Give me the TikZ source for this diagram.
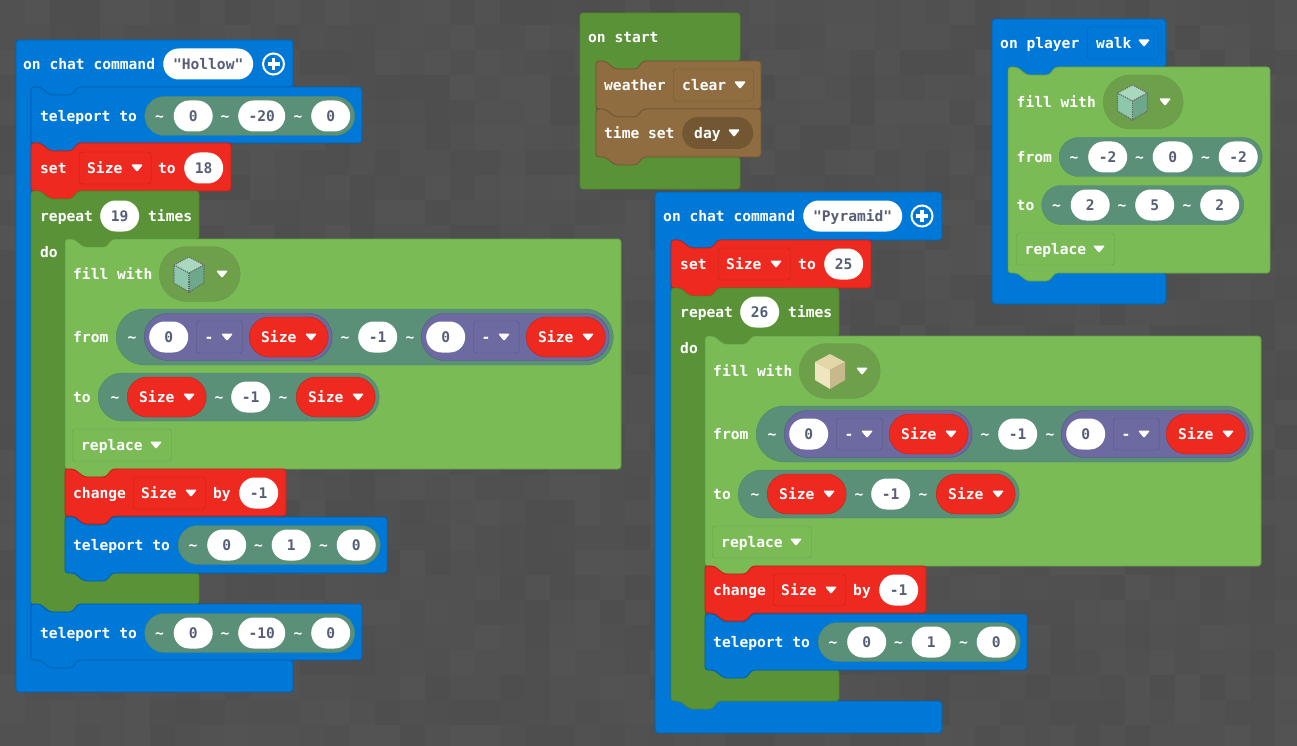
\documentclass[tikz,border=0pt]{standalone}
\usepackage{fontspec}
\setmonofont{DejaVu Sans Mono}
\usetikzlibrary{shapes.misc}
\definecolor{bluefill}{HTML}{0078D7}
\definecolor{blueline}{HTML}{0060AC}
\definecolor{hatgreen}{HTML}{5A9337}
\definecolor{hatline}{HTML}{4F8530}
\definecolor{lightgreen}{HTML}{7BBB56}
\definecolor{lightline}{HTML}{649F45}
\definecolor{ddgreen}{HTML}{6E9F4B}
\definecolor{redfill}{HTML}{EE2A20}
\definecolor{redline}{HTML}{BE2219}
\definecolor{brownfill}{HTML}{8F6D40}
\definecolor{brownline}{HTML}{725733}
\definecolor{browndark}{HTML}{735733}
\definecolor{tealfill}{HTML}{5A8F78}
\definecolor{tealline}{HTML}{4D8A68}
\definecolor{purplefill}{HTML}{6C6AA0}
\definecolor{purpleline}{HTML}{565580}
\definecolor{valtext}{HTML}{575E75}
\definecolor{cubetop}{HTML}{A9D8BE}
\definecolor{cubeleft}{HTML}{8EC7AB}
\definecolor{cuberight}{HTML}{6EA88C}
\definecolor{sandtop}{HTML}{E3D7A8}
\definecolor{sandleft}{HTML}{EFE6C0}
\definecolor{sandright}{HTML}{C8B98C}
\tikzset{
lbl/.style={anchor=west,inner sep=0,text=white},
tld/.style={anchor=center,inner sep=0,text=white},
valpill/.style={rounded rectangle,fill=white,text=valtext,minimum height=31pt,minimum width=39pt,inner sep=0,anchor=west},
tealgroup/.style={rounded rectangle,fill=tealfill,draw=tealline,minimum height=39pt,inner sep=0,anchor=west},
purplegroup/.style={rounded rectangle,fill=purplefill,draw=purpleline,minimum width=188pt,minimum height=47pt,inner sep=0,anchor=west},
sizepill/.style={rounded rectangle,fill=redfill,draw=redline,minimum width=79pt,minimum height=40pt,inner sep=0,anchor=west},
ddbox/.style={rectangle,rounded corners=3pt,minimum height=32pt,inner sep=0,anchor=west},
ddpill/.style={rounded rectangle,inner sep=0,anchor=west},
blueblock/.style={fill=bluefill,draw=blueline,rounded corners=3pt,line width=.8pt},
redblock/.style={fill=redfill,draw=redline,rounded corners=3pt,line width=.8pt},
hatblockcol/.style={fill=hatgreen,draw=hatline,rounded corners=3pt,line width=.8pt},
fillblock/.style={fill=lightgreen,draw=lightline,rounded corners=3pt,line width=.8pt},
brownblock/.style={fill=brownfill,draw=brownline,rounded corners=3pt,line width=.8pt},
dotedge/.style={black!60,densely dotted,line width=1.1pt}}

% style, x1, y1, x2, y2
\newcommand\stackblock[5]{
\draw[#1] (#2,#3) -- ({#2+9},#3) -- ({#2+19},{#3+8}) -- ({#2+41},{#3+8}) -- ({#2+47},#3) -- (#4,#3) -- (#4,#5)
 -- ({#2+47},#5) -- ({#2+41},{#5+8}) -- ({#2+19},{#5+8}) -- ({#2+9},#5) -- (#2,#5) -- cycle;
}
% style, x1, y1, x2, arm bottom, inner x, inner bottom, y2
\newcommand\hatblock[8]{
\draw[#1] (#2,#3) -- (#4,#3) -- (#4,#5) -- ({#6+47},#5) -- ({#6+41},{#5+8}) -- ({#6+19},{#5+8}) -- ({#6+9},#5) -- (#6,#5)
 -- (#6,#7) -- (#4,#7) -- (#4,#8) -- (#2,#8) -- cycle;
}
\newcommand\loopblock[8]{
\draw[#1] (#2,#3) -- ({#2+9},#3) -- ({#2+19},{#3+8}) -- ({#2+41},{#3+8}) -- ({#2+47},#3) -- (#4,#3) -- (#4,#5)
 -- ({#6+47},#5) -- ({#6+41},{#5+8}) -- ({#6+19},{#5+8}) -- ({#6+9},#5) -- (#6,#5) -- (#6,#7) -- (#4,#7) -- (#4,#8)
 -- ({#2+47},#8) -- ({#2+41},{#8+8}) -- ({#2+19},{#8+8}) -- ({#2+9},#8) -- (#2,#8) -- cycle;
}
\newcommand\tri[2]{
\fill[white,rounded corners=1.2pt] ({#1-6},{#2-3.5}) -- ({#1+6},{#2-3.5}) -- (#1,{#2+4}) -- cycle;
}
% name, x, y, a, b, c, width of b
\newcommand\coordrow[7]{
\node[tealgroup,minimum width={(163+#7)*1pt}] (#1g) at (#2,#3) {};
\node[tld] (#1t1) at ({#2+15},#3) {\textasciitilde};
\node[valpill] (#1a) at ({#2+29},#3) {#4};
\node[tld] (#1t2) at ({#2+80.5},#3) {\textasciitilde};
\node[valpill,minimum width=#7pt] (#1b) at ({#2+93.5},#3) {#5};
\node[tld] (#1t3) at ({#2+106.5+#7},#3) {\textasciitilde};
\node[valpill] (#1c) at ({#2+119.5+#7},#3) {#6};
}
\newcommand\sizevar[3]{
\node[sizepill] (#1) at (#2,#3) {};
\node[lbl] (#1w) at ({#2+12},#3) {Size};
\tri{#2+62}{#3}
}
\newcommand\sizebox[3]{
\node[ddbox,fill=redfill,draw=redline,minimum width=72pt] (#1) at (#2,#3) {};
\node[lbl] (#1w) at ({#2+8},#3) {Size};
\tri{#2+58}{#3}
}
\newcommand\minusgroup[3]{
\node[purplegroup] (#1) at (#2,#3) {};
\node[valpill] (#1a) at ({#2+5},#3) {0};
\node[ddbox,fill=purplefill,draw=purpleline,minimum width=46pt] (#1o) at ({#2+52},#3) {};
\node[tld] (#1m) at ({#2+65},#3) {-};
\tri{#2+83}{#3}
\sizevar{#1s}{#2+105}{#3}
}
% x, y, top, left, right, edge style
\newcommand\cube[6]{
\fill[#3] (#1,{#2-17}) -- ({#1+15},{#2-9}) -- (#1,{#2-1}) -- ({#1-15},{#2-9}) -- cycle;
\fill[#4] ({#1-15},{#2-9}) -- (#1,{#2-1}) -- (#1,{#2+18}) -- ({#1-15},{#2+9}) -- cycle;
\fill[#5] ({#1+15},{#2-9}) -- (#1,{#2-1}) -- (#1,{#2+18}) -- ({#1+15},{#2+9}) -- cycle;
\draw[#6] (#1,{#2-17}) -- ({#1+15},{#2-9}) -- ({#1+15},{#2+9}) -- (#1,{#2+18}) -- ({#1-15},{#2+9}) -- ({#1-15},{#2-9}) -- cycle;
\draw[#6] ({#1-15},{#2-9}) -- (#1,{#2-1}) -- ({#1+15},{#2-9});
\draw[#6] (#1,{#2-1}) -- (#1,{#2+18});
}
\newcommand\plusicon[3]{
\node[circle,draw=white,line width=2pt,fill=bluefill,minimum size=21pt,inner sep=0] (#1) at (#2,#3) {};
\draw[white,line width=3.5pt] ({#2-6},#3) -- ({#2+6},#3);
\draw[white,line width=3.5pt] (#2,{#3-6}) -- (#2,{#3+6});
}
% the fill, change and teleport stack of a loop, in the first script's place
\newcommand\loopbody[1]{
\stackblock{fillblock}{65}{239}{621}{469}
\stackblock{redblock}{65}{469}{286}{516}
\stackblock{blueblock}{65}{517}{387}{573}

\node[lbl] (fillw) at (73,274) {fill with};
\node[ddpill,fill=ddgreen,draw=lightline,minimum width=81pt,minimum height=55pt] (fillb) at (159,274) {};
#1
\tri{222}{274}

\node[lbl] (fromw) at (73,337) {from};
\node[tealgroup,minimum width=497pt,minimum height=56pt] (fromg) at (116,337) {};
\node[tld] (fromt1) at (132,337) {\textasciitilde};
\minusgroup{fromx}{144}{337}
\node[tld] (fromt2) at (345,337) {\textasciitilde};
\node[valpill] (fromy) at (358,337) {-1};
\node[tld] (fromt3) at (410,337) {\textasciitilde};
\minusgroup{fromz}{421}{337}

\node[lbl] (tow) at (73,397) {to};
\node[tealgroup,minimum width=281pt,minimum height=48pt] (tog) at (98,397) {};
\node[tld] (tot1) at (115,397) {\textasciitilde};
\sizevar{tox}{127}{397}
\node[tld] (tot2) at (219,397) {\textasciitilde};
\node[valpill] (toy) at (231,397) {-1};
\node[tld] (tot3) at (283,397) {\textasciitilde};
\sizevar{toz}{296}{397}

\node[ddbox,draw=lightline,fill=lightgreen,minimum width=99pt] (repl) at (72,445) {};
\node[lbl] (replw) at (81,445) {replace};
\tri{156}{445}

\node[lbl] (chgw) at (73,493) {change};
\sizebox{chgb}{133}{493}
\node[lbl] (byw) at (213,493) {by};
\node[valpill] (chgv) at (239,493) {-1};

\node[lbl] (tpw) at (73,545) {teleport to};
\coordrow{tp}{178}{545}{0}{1}{0}{39}
}

\begin{document}
\begin{tikzpicture}[x=1pt,y=-1pt,font=\ttfamily\bfseries\fontsize{14.6}{16}\selectfont,text height=12.5pt,text depth=1pt]
\useasboundingbox (0,0) rectangle (1297,746);

% stone floor
\fill[black!69] (0,0) rectangle (1297,746);
\pgfmathsetseed{11}
\foreach \i in {0,...,51}{
\foreach \j in {0,...,29}{
\pgfmathtruncatemacro\grey{random(78,83)}
\fill[color={rgb,255:red,\grey;green,\grey;blue,\grey}] ({25*\i},{25*\j}) rectangle ({25*\i+25.5},{25*\j+25.5});
}}

% hollow
\hatblock{blueblock}{16}{40}{293}{87}{31}{660}{692}
\node[lbl] (hollowcmd) at (23,64) {on chat command};
\node[valpill,minimum width=90pt] (hollowname) at (163,64) {"Hollow"};
\plusicon{hollowplus}{273.5}{64}

\stackblock{blueblock}{31}{87}{362}{143}
\node[lbl] (tp1w) at (40,116) {teleport to};
\coordrow{tp1}{144.5}{116}{0}{-20}{0}{47}

\stackblock{redblock}{31}{143}{231}{191}
\node[lbl] (set1w) at (40,168) {set};
\sizebox{set1b}{79}{168}
\node[lbl] (set1to) at (158,168) {to};
\node[valpill] (set1v) at (184,168) {18};

\loopblock{hatblockcol}{31}{191}{199}{239}{65}{573}{604}
\node[lbl] (rep1w) at (40,216) {repeat};
\node[valpill] (rep1v) at (100,216) {19};
\node[lbl] (rep1t) at (148,216) {times};
\node[lbl] (do1) at (40,252) {do};

\begin{scope}[name prefix=hollow-]
\loopbody{\cube{189}{274}{cubetop}{cubeleft}{cuberight}{dotedge}}
\end{scope}

\stackblock{blueblock}{31}{604}{362}{660}
\node[lbl] (tp2w) at (40,633) {teleport to};
\coordrow{tp2}{144.5}{633}{0}{-10}{0}{47}

% pyramid
\hatblock{blueblock}{655}{192}{942}{240}{671}{701}{733}
\node[lbl] (pyrcmd) at (663,216) {on chat command};
\node[valpill,minimum width=99pt] (pyrname) at (803,216) {"Pyramid"};
\plusicon{pyrplus}{922}{216}

\stackblock{redblock}{671}{240}{871}{288}
\node[lbl] (set2w) at (680,264) {set};
\sizebox{set2b}{718}{264}
\node[lbl] (set2to) at (798,264) {to};
\node[valpill] (set2v) at (824,264) {25};

\loopblock{hatblockcol}{671}{288}{839}{336}{705}{670}{701}
\node[lbl] (rep2w) at (680,312) {repeat};
\node[valpill] (rep2v) at (740,312) {26};
\node[lbl] (rep2t) at (788,312) {times};
\node[lbl] (do2) at (680,348) {do};

\begin{scope}[shift={(640,97)},name prefix=pyramid-]
\loopbody{\cube{190}{274}{sandtop}{sandleft}{sandright}{draw=none}}
\end{scope}

% on start
\hatblock{hatblockcol}{580}{13}{740}{61}{596}{157}{189}
\node[lbl] (startw) at (588,37) {on start};
\stackblock{brownblock}{596}{61}{761}{109}
\stackblock{brownblock}{596}{109}{761}{157}
\node[lbl] (weatherw) at (604,85) {weather};
\node[ddbox,fill=brownfill,draw=brownline,minimum width=80pt] (weatherb) at (673,85) {};
\node[lbl] (clearw) at (682,85) {clear};
\tri{740}{85}
\node[lbl] (timew) at (604,133) {time set};
\node[ddpill,fill=browndark,minimum width=71pt,minimum height=32pt] (timeb) at (682,133) {};
\node[lbl] (dayw) at (694,133) {day};
\tri{734}{133}

% walk
\hatblock{blueblock}{992}{19}{1166}{67}{1008}{273}{304}
\node[lbl] (walkcmd) at (1000,43) {on player};
\node[ddbox,fill=bluefill,draw=blueline,minimum width=71pt] (walkb) at (1087,43) {};
\node[lbl] (walkw) at (1096,43) {walk};
\tri{1144}{43}

\stackblock{fillblock}{1008}{67}{1270}{273}
\node[lbl] (walkfill) at (1016.5,102) {fill with};
\node[ddpill,fill=ddgreen,draw=lightline,minimum width=80pt,minimum height=54pt] (walkfillb) at (1103,102) {};
\cube{1132.5}{102}{cubetop}{cubeleft}{cuberight}{dotedge}
\tri{1165}{102}
\node[lbl] (walkfrom) at (1016.5,157) {from};
\coordrow{wf}{1059}{157}{-2}{0}{-2}{40}
\node[lbl] (walkto) at (1016.5,205) {to};
\coordrow{wt}{1041.5}{205}{2}{5}{2}{39}
\node[ddbox,draw=lightline,fill=lightgreen,minimum width=98pt] (walkrepl) at (1016,249) {};
\node[lbl] (walkreplw) at (1024.5,249) {replace};
\tri{1099}{249}
\end{tikzpicture}
\end{document}
